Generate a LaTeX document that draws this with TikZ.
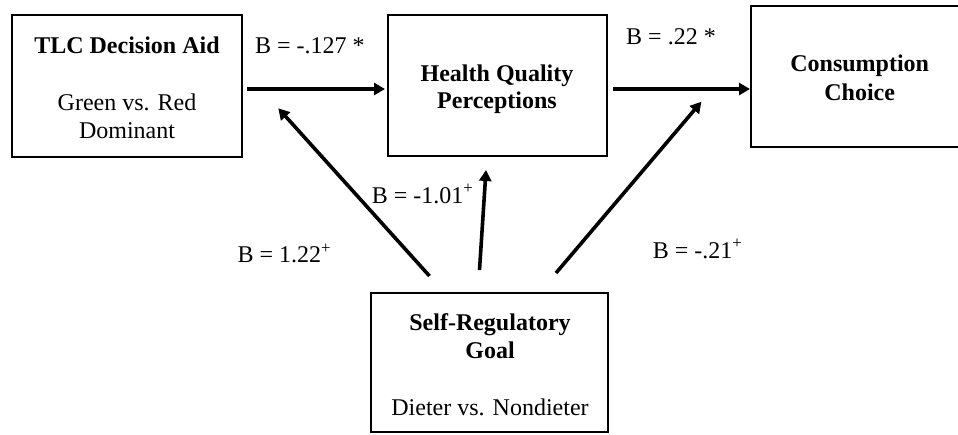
\documentclass[tikz,border=0pt]{standalone}
\usepackage{fontspec}
\setmainfont{Liberation Serif}
\usetikzlibrary{arrows.meta}
\begin{document}
\begin{tikzpicture}[x=1pt,y=-1pt,
  box/.style={draw,line width=2pt,inner sep=0pt,outer sep=0pt,rectangle},
  txt/.style={font=\fontsize{24}{28}\selectfont,anchor=base,inner sep=0pt},
  ttl/.style={font=\fontsize{24}{28}\selectfont\bfseries,anchor=base,inner sep=0pt},
  lbl/.style={font=\fontsize{24}{28}\selectfont,anchor=base west,inner sep=0pt},
  arr/.style={line width=3.6pt,-{Triangle[length=11pt,width=12pt]}}]
\useasboundingbox (0,0) rectangle (958,434);
\clip (0,0) rectangle (958,434);
% boxes
\node[box,minimum width=230pt,minimum height=142pt] (tlc) at (127,86) {};
\node[box,minimum width=219pt,minimum height=141pt] (hqp) at (497.5,85.5) {};
\node[box,minimum width=230pt,minimum height=141pt] (cc) at (866,76.5) {};
\node[box,minimum width=237pt,minimum height=139pt] (srg) at (489.5,362.5) {};
% box texts
\node[ttl] (t1) at (127,53) {TLC Decision Aid};
\node[txt] (t2) at (127,110) {Green vs. Red};
\node[txt] (t3) at (127,138) {Dominant};
\node[ttl] (h1) at (497,81.7) {Health Quality};
\node[ttl] (h2) at (497,108) {Perceptions};
\node[ttl] (c1) at (859.7,71.7) {Consumption};
\node[ttl] (c2) at (859.7,100) {Choice};
\node[ttl] (s1) at (490,330) {Self-Regulatory};
\node[ttl] (s2) at (490,358) {Goal};
\node[txt] (s3) at (490,415) {Dieter vs. Nondieter};
% labels
\node[lbl] (l1) at (255,53) {B = -.127 *};
\node[lbl] (l2) at (626,44) {B = .22 *};
\node[lbl] (l3) at (371.7,203) {B = -1.01\textsuperscript{+}};
\node[lbl] (l4) at (237.3,262.5) {B = 1.22\textsuperscript{+}};
\node[lbl] (l5) at (652.7,258) {B = -.21\textsuperscript{+}};
% free ends
\coordinate (m1) at (278.3,108.3);
\coordinate (m2) at (701.4,101.7);
% arrows
\draw[arr] ([shift={(5,3)}]tlc.east) -- ([shift={(-3,3.5)}]hqp.west);
\draw[arr] ([shift={(6,3.5)}]hqp.east) -- ([shift={(-1,12.5)}]cc.west);
\draw[arr] ([shift={(-10,-23)}]srg.north) -- ([shift={(-11.5,14)}]hqp.south);
\draw[arr] ([shift={(-60,-17)}]srg.north) -- (m1);
\draw[arr] ([shift={(66.5,-20)}]srg.north) -- (m2);
\end{tikzpicture}
\end{document}
